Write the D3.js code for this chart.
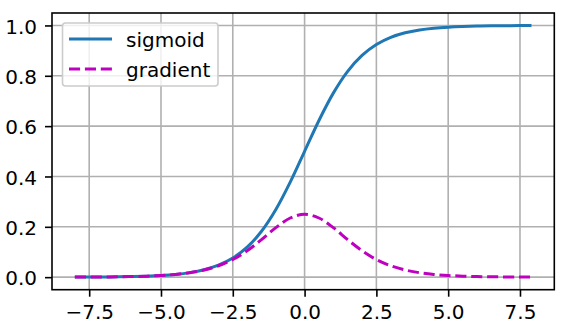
<!DOCTYPE html>
<html>
<head>
<meta charset="utf-8">
<script src="https://cdn.jsdelivr.net/npm/d3@7"></script>
<style>
  html, body { margin: 0; padding: 0; background: #fff; }
  svg { display: block; }
  text { font-family: "DejaVu Sans", sans-serif; fill: #000; }
</style>
</head>
<body>
<div id="chart"></div>
<script>
// Sample positions along x
const xValues = [-8, -7.5, -7, -6.5, -6, -5.5, -5, -4.5, -4, -3.5, -3, -2.5, -2, -1.5, -1, -0.5,
                 0, 0.5, 1, 1.5, 2, 2.5, 3, 3.5, 4, 4.5, 5, 5.5, 6, 6.5, 7, 7.5, 7.9];

// Sigmoid curve values
const sigmoidValues = [0.0003, 0.0006, 0.0009, 0.0015, 0.0025, 0.0041, 0.0067, 0.0110, 0.0180, 0.0293,
                       0.0474, 0.0759, 0.1192, 0.1824, 0.2689, 0.3775, 0.5000, 0.6225, 0.7311, 0.8176,
                       0.8808, 0.9241, 0.9526, 0.9707, 0.9820, 0.9890, 0.9933, 0.9959, 0.9975, 0.9985,
                       0.9991, 0.9994, 0.9996];

// Gradient of the sigmoid
const gradientValues = [0.0003, 0.0006, 0.0009, 0.0015, 0.0025, 0.0041, 0.0066, 0.0109, 0.0177, 0.0285,
                        0.0452, 0.0701, 0.1050, 0.1491, 0.1966, 0.2350, 0.2500, 0.2350, 0.1966, 0.1491,
                        0.1050, 0.0701, 0.0452, 0.0285, 0.0177, 0.0109, 0.0066, 0.0041, 0.0025, 0.0015,
                        0.0009, 0.0006, 0.0004];

const xTicks = [-7.5, -5.0, -2.5, 0.0, 2.5, 5.0, 7.5];
const yTicks = [0.0, 0.2, 0.4, 0.6, 0.8, 1.0];
const seriesNames = ["sigmoid", "gradient"];

const W = 585, H = 329;
const plot = { left: 52, right: 554.3, top: 13, bottom: 289.7 };
const FONT = 20, LW = 3, THIN = 1.6;
const DASH = "11.1,4.8";

const svg = d3.select("#chart").append("svg")
  .attr("width", W).attr("height", H);

const x = d3.scaleLinear().domain([-8.795, 8.695]).range([plot.left, plot.right]);
const y = d3.scaleLinear().domain([-0.04981, 1.04944]).range([plot.bottom, plot.top]);

const fmt = v => d3.format(".1f")(v).replace("-", "\u2212");

// Grid lines
const grid = svg.append("g").attr("stroke", "#b0b0b0").attr("stroke-width", THIN);
grid.selectAll("line.gx").data(xTicks).join("line")
  .attr("x1", d => x(d)).attr("x2", d => x(d))
  .attr("y1", plot.top).attr("y2", plot.bottom);
grid.selectAll("line.gy").data(yTicks).join("line")
  .attr("x1", plot.left).attr("x2", plot.right)
  .attr("y1", d => y(d)).attr("y2", d => y(d));

// Curves
const data = xValues.map((xv, i) => ({ x: xv, s: sigmoidValues[i], g: gradientValues[i] }));
const lineS = d3.line().x(d => x(d.x)).y(d => y(d.s)).curve(d3.curveCatmullRom.alpha(0.5));
const lineG = d3.line().x(d => x(d.x)).y(d => y(d.g)).curve(d3.curveCatmullRom.alpha(0.5));

svg.append("clipPath").attr("id", "plotclip").append("rect")
  .attr("x", plot.left).attr("y", plot.top)
  .attr("width", plot.right - plot.left).attr("height", plot.bottom - plot.top);

const curves = svg.append("g").attr("clip-path", "url(#plotclip)");
curves.append("path").attr("d", lineS(data))
  .attr("fill", "none").attr("stroke", "#1f77b4").attr("stroke-width", LW);
curves.append("path").attr("d", lineG(data))
  .attr("fill", "none").attr("stroke", "#bf00bf").attr("stroke-width", LW)
  .attr("stroke-dasharray", DASH);

// Axes
const xAxis = d3.axisBottom(x).tickValues(xTicks).tickFormat(fmt).tickSize(7).tickPadding(8.4);
const yAxis = d3.axisLeft(y).tickValues(yTicks).tickFormat(fmt).tickSize(7).tickPadding(8);

const gx = svg.append("g").attr("transform", `translate(0,${plot.bottom})`).call(xAxis);
const gy = svg.append("g").attr("transform", `translate(${plot.left},0)`).call(yAxis);
[gx, gy].forEach(g => {
  g.select(".domain").remove();
  g.selectAll(".tick line").attr("stroke", "#000").attr("stroke-width", THIN);
  g.selectAll(".tick text").attr("font-size", FONT).attr("font-family", "DejaVu Sans");
});
gy.selectAll(".tick text").attr("dy", "0.38em");

// Frame
svg.append("rect")
  .attr("x", plot.left).attr("y", plot.top)
  .attr("width", plot.right - plot.left).attr("height", plot.bottom - plot.top)
  .attr("fill", "none").attr("stroke", "#000").attr("stroke-width", THIN);

// Legend
const legend = svg.append("g");
legend.append("rect")
  .attr("x", 62.5).attr("y", 23).attr("width", 155.5).attr("height", 63)
  .attr("rx", 3).attr("fill", "#fff").attr("fill-opacity", 0.8)
  .attr("stroke", "#cccccc").attr("stroke-width", THIN);
const legendStyles = [
  { color: "#1f77b4", dash: null },
  { color: "#bf00bf", dash: DASH }
];
seriesNames.forEach((name, i) => {
  const ly = 39 + i * 30;
  legend.append("line")
    .attr("x1", 69).attr("x2", 112).attr("y1", ly).attr("y2", ly)
    .attr("stroke", legendStyles[i].color).attr("stroke-width", LW)
    .attr("stroke-dasharray", legendStyles[i].dash);
  legend.append("text")
    .attr("x", 126).attr("y", ly + 7.6)
    .attr("font-size", FONT)
    .text(name);
});
</script>
</body>
</html>
